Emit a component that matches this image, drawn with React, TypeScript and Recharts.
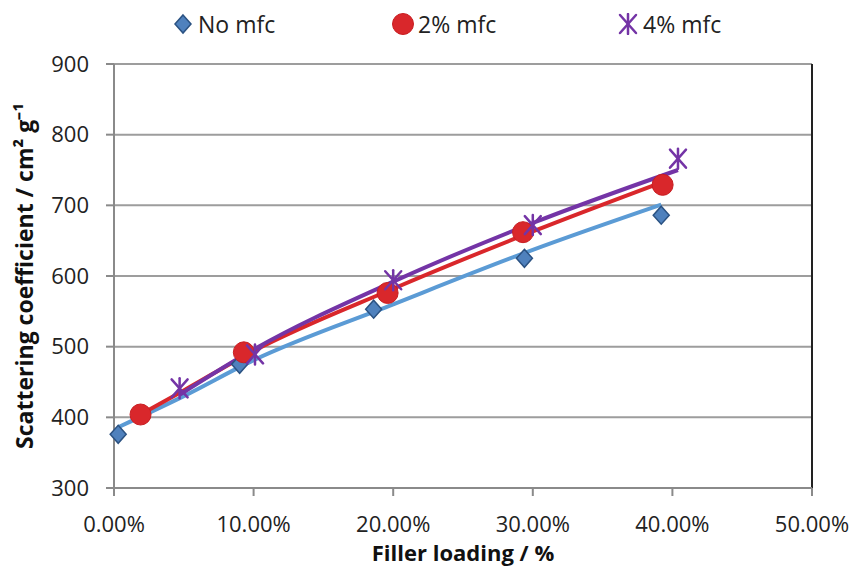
import React from "react";
import { ComposedChart, Line, Scatter, XAxis, YAxis, CartesianGrid, ReferenceLine } from "recharts";

// measured points
const noMfcX = [0.3, 9.0, 18.6, 29.4, 39.2];
const noMfcY = [376, 475, 553, 625, 686];
const twoMfcX = [1.9, 9.3, 19.6, 29.3, 39.3];
const twoMfcY = [404, 492, 576, 662, 729];
const fourMfcX = [4.7, 10.1, 20.0, 30.0, 40.4];
const fourMfcY = [441, 489, 594, 672, 766];

// fitted trend lines
const noMfcTrendX = [0.3, 5, 10, 20, 30, 39.2];
const noMfcTrendY = [386, 430, 481, 560, 637, 701];
const twoMfcTrendX = [1.9, 5, 10, 20, 30, 39.3];
const twoMfcTrendY = [404, 438, 494, 582, 663, 733];
const fourMfcTrendX = [4.7, 10, 20, 30, 40.4];
const fourMfcTrendY = [432, 496, 592, 675, 750];

const xTicks = [0, 10, 20, 30, 40, 50];
const yTicks = [300, 400, 500, 600, 700, 800, 900];
const legendLabels = ["No mfc", "2% mfc", "4% mfc"];

const BLUE = "#4f81bd";
const BLUE_EDGE = "#2b5282";
const BLUE_LINE = "#5b9bd5";
const RED = "#d9272b";
const PURPLE = "#7434a6";
const FONT = "'Open Sans', sans-serif";

const zip = (xs: number[], ys: number[]) => xs.map((x, i) => ({ x, y: ys[i] }));

const Diamond = ({ cx, cy }: any) => (
  <path d={`M${cx},${cy - 9}L${cx + 8},${cy}L${cx},${cy + 9}L${cx - 8},${cy}Z`} fill={BLUE} stroke={BLUE_EDGE} strokeWidth={1.5} />
);
const Dot = ({ cx, cy }: any) => <circle cx={cx} cy={cy} r={10.5} fill={RED} stroke="#c81e22" strokeWidth={1} />;
const Star = ({ cx, cy }: any) => (
  <g stroke={PURPLE} strokeWidth={2.5} strokeLinecap="round">
    <line x1={cx} y1={cy - 10} x2={cx} y2={cy + 10} />
    <line x1={cx - 8} y1={cy - 9} x2={cx + 8} y2={cy + 9} />
    <line x1={cx + 8} y1={cy - 9} x2={cx - 8} y2={cy + 9} />
  </g>
);

function LegendIcon({ i }: { i: number }) {
  return (
    <svg width={22} height={22} style={{ marginRight: 4 }}>
      {i === 0 && <Diamond cx={11} cy={11} />}
      {i === 1 && <Dot cx={11} cy={11} />}
      {i === 2 && <Star cx={11} cy={11} />}
    </svg>
  );
}

const legendLeft = [172, 392, 617];

export default function App() {
  return (
    <div style={{ position: "absolute", left: 0, top: 0, width: 857, height: 579, background: "#fff", fontFamily: FONT }}>
      {legendLabels.map((t, i) => (
        <div
          key={t}
          style={{ position: "absolute", left: legendLeft[i], top: 9, display: "flex", alignItems: "center", fontSize: 23, color: "#222", lineHeight: "30px" }}
        >
          <LegendIcon i={i} />
          <span>{t}</span>
        </div>
      ))}
      <ComposedChart width={857} height={579} margin={{ top: 64, right: 45, bottom: 0, left: 0 }}>
        <CartesianGrid vertical={false} stroke="#9d9d9d" strokeWidth={2} />
        <XAxis
          type="number"
          dataKey="x"
          domain={[0, 50]}
          ticks={xTicks}
          height={91}
          tickFormatter={(v: number) => `${v.toFixed(2)}%`}
          tick={{ fill: "#222", fontSize: 22, fontFamily: FONT }}
          tickSize={8}
          tickMargin={20}
          stroke="#8a8a8a"
          strokeWidth={2}
          label={{ value: "Filler loading / %", position: "insideBottom", offset: 18, fill: "#111", fontSize: 22, fontWeight: 700, fontFamily: FONT }}
        />
        <YAxis
          type="number"
          domain={[300, 900]}
          ticks={yTicks}
          width={114}
          tick={{ fill: "#222", fontSize: 22, fontFamily: FONT }}
          tickSize={8}
          tickMargin={17}
          stroke="#8a8a8a"
          strokeWidth={2}
          label={{
            content: ({ viewBox }: any) => (
              <text
                x={24}
                y={viewBox.y + viewBox.height / 2}
                transform={`rotate(-90, 24, ${viewBox.y + viewBox.height / 2})`}
                textAnchor="middle"
                dominantBaseline="central"
                fill="#111"
                fontSize={23}
                fontWeight={700}
                fontFamily={FONT}
              >
                Scattering coefficient  / cm² g⁻¹
              </text>
            ),
          }}
        />
        <ReferenceLine x={50} stroke="#222" strokeWidth={2} />
        <Line data={zip(noMfcTrendX, noMfcTrendY)} dataKey="y" type="monotone" stroke={BLUE_LINE} strokeWidth={4} dot={false} isAnimationActive={false} />
        <Line data={zip(twoMfcTrendX, twoMfcTrendY)} dataKey="y" type="monotone" stroke={RED} strokeWidth={4} dot={false} isAnimationActive={false} />
        <Line data={zip(fourMfcTrendX, fourMfcTrendY)} dataKey="y" type="monotone" stroke={PURPLE} strokeWidth={4} dot={false} isAnimationActive={false} />
        <Scatter data={zip(noMfcX, noMfcY)} dataKey="y" shape={Diamond} isAnimationActive={false} />
        <Scatter data={zip(twoMfcX, twoMfcY)} dataKey="y" shape={Dot} isAnimationActive={false} />
        <Scatter data={zip(fourMfcX, fourMfcY)} dataKey="y" shape={Star} isAnimationActive={false} />
      </ComposedChart>
    </div>
  );
}
